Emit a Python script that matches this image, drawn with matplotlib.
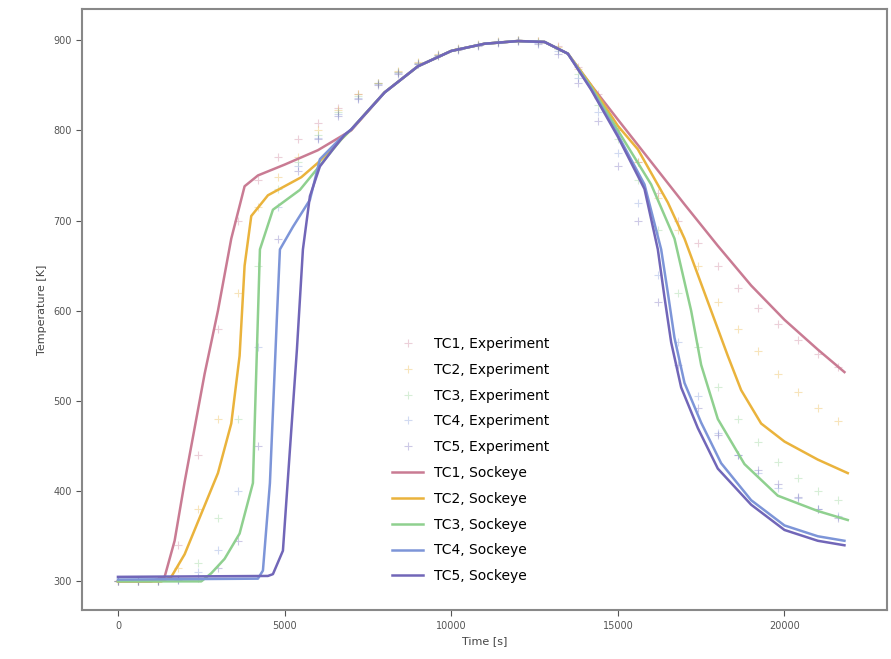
import numpy as np
import matplotlib
matplotlib.use('Agg')
import matplotlib.pyplot as plt

# Experiment data, common time base
exp_time = [0, 600, 1200, 1800, 2400, 3000, 3600, 4200, 4800, 5400, 6000, 6600,
            7200, 7800, 8400, 9000, 9600, 10200, 10800, 11400, 12000, 12600,
            13200, 13800, 14400, 15000, 15600, 16200, 16800, 17400, 18000,
            18600, 19200, 19800, 20400, 21000, 21600]
exp_tc1 = [300, 300, 302, 340, 440, 580, 700, 745, 770, 790, 808, 825, 840, 852,
           865, 875, 884, 890, 895, 898, 900, 899, 893, 870, 840, 800, 765, 730,
           700, 675, 650, 625, 603, 585, 568, 552, 538]
exp_tc2 = [300, 300, 300, 315, 380, 480, 620, 715, 748, 770, 800, 822, 840, 853,
           866, 876, 885, 891, 896, 899, 900, 899, 892, 868, 836, 800, 765, 725,
           690, 650, 610, 580, 555, 530, 510, 492, 478]
exp_tc3 = [300, 300, 300, 303, 320, 370, 480, 650, 735, 765, 795, 820, 838, 852,
           865, 875, 884, 890, 895, 898, 900, 898, 890, 862, 828, 790, 745, 690,
           620, 560, 515, 480, 455, 432, 415, 400, 390]
exp_tc4 = [300, 300, 300, 302, 310, 335, 400, 560, 715, 760, 792, 818, 836, 851,
           864, 874, 883, 890, 895, 898, 899, 897, 888, 858, 820, 775, 720, 640,
           565, 505, 465, 440, 420, 404, 392, 380, 372]
exp_tc5 = [300, 300, 300, 301, 304, 315, 345, 450, 680, 755, 790, 816, 835, 850,
           863, 873, 882, 889, 894, 897, 899, 896, 885, 852, 810, 760, 700, 610,
           540, 492, 462, 440, 424, 408, 393, 380, 370]

# Sockeye simulation curves
mid_t = [8000, 9000, 10000, 11000, 12000, 12800, 13500]
mid_T = [842, 871, 888, 896, 899, 898, 885]

sim_t1 = [0, 1000, 1400, 1700, 2000, 2300, 2600, 3000, 3400, 3800, 4200, 5000,
          6000, 7000] + mid_t + [14200, 15000, 16000, 17000, 18000, 19000,
                                 20000, 21000, 21800]
sim_T1 = [300, 300, 305, 345, 410, 470, 530, 600, 680, 738, 750, 762, 778,
          800] + mid_T + [850, 812, 765, 718, 672, 628, 590, 557, 532]

sim_t2 = [0, 1300, 1600, 2000, 2500, 3000, 3400, 3650, 3800, 4000, 4500, 5500,
          6000, 6700, 7000] + mid_t + [14200, 15000, 15600, 16500, 17000, 17500,
                                       18000, 18300, 18700, 19300, 20000,
                                       21000, 21900]
sim_T2 = [300, 300, 305, 330, 375, 420, 475, 550, 650, 705, 728, 748, 764, 790,
          801] + mid_T + [850, 805, 779, 720, 680, 630, 580, 550, 512, 475, 455,
                          435, 420]

sim_t3 = [0, 2500, 2800, 3200, 3650, 4050, 4170, 4260, 4650, 5460, 5970, 6700,
          7000] + mid_t + [14200, 15000, 16000, 16700, 17200, 17500, 18000,
                           18800, 19800, 21000, 21900]
sim_T3 = [300, 300, 309, 325, 353, 409, 557, 668, 712, 734, 757, 790,
          801] + mid_T + [848, 800, 740, 680, 600, 540, 480, 430, 395, 378, 368]

sim_t4 = [0, 4200, 4350, 4560, 4770, 4860, 5250, 5760, 6060, 6700,
          7000] + mid_t + [14200, 15000, 15800, 16300, 16500, 16700, 17000,
                           17500, 18100, 19000, 20000, 21000, 21800]
sim_T4 = [302, 303, 312, 409, 593, 668, 693, 723, 768, 792,
          801] + mid_T + [846, 795, 740, 668, 620, 570, 520, 476, 431, 390, 362,
                          350, 345]

sim_t5 = [0, 4500, 4650, 4950, 5160, 5370, 5550, 5760, 6060, 6450, 6800,
          7000] + mid_t + [14200, 15000, 15800, 16200, 16400, 16600, 16900,
                           17400, 18000, 19000, 20000, 21000, 21800]
sim_T5 = [305, 306, 308, 334, 446, 557, 668, 727, 760, 779, 795,
          801] + mid_T + [845, 793, 735, 668, 615, 565, 515, 470, 425, 385, 357,
                          345, 340]

names = ['TC1', 'TC2', 'TC3', 'TC4', 'TC5']
colors = ['#c97b93', '#eab33c', '#8fd08f', '#7d95d8', '#7166b8']
exp_vals = [exp_tc1, exp_tc2, exp_tc3, exp_tc4, exp_tc5]
sim_times = [sim_t1, sim_t2, sim_t3, sim_t4, sim_t5]
sim_vals = [sim_T1, sim_T2, sim_T3, sim_T4, sim_T5]

fig = plt.figure(figsize=(8.91, 6.59), dpi=100)
ax = fig.add_axes([0.092, 0.074, 0.904, 0.913])

for name, c, ev in zip(names, colors, exp_vals):
    ax.plot(exp_time, ev, linestyle='none', marker='+', markersize=6,
            markeredgewidth=0.8, color=c, alpha=0.35,
            label=f'{name}, Experiment')

for name, c, st, sv in zip(names, colors, sim_times, sim_vals):
    ax.plot(st, sv, color=c, linewidth=1.8, label=f'{name}, Sockeye')

ax.set_xlim(-1080, 23090)
ax.set_ylim(268, 935)
ax.set_xticks([0, 5000, 10000, 15000, 20000])
ax.set_yticks([300, 400, 500, 600, 700, 800, 900])
ax.set_xlabel('Time [s]', fontsize=8, color='#444444')
ax.set_ylabel('Temperature [K]', fontsize=8, color='#444444')
ax.tick_params(labelsize=7, colors='#555555', direction='out', length=4)
for sp in ax.spines.values():
    sp.set_color('#888888')
    sp.set_linewidth(1.5)

ax.legend(loc='upper left', bbox_to_anchor=(0.37, 0.475), frameon=False,
          fontsize=10, labelspacing=0.85, handlelength=2.2)

plt.savefig('out.png', dpi=100)
